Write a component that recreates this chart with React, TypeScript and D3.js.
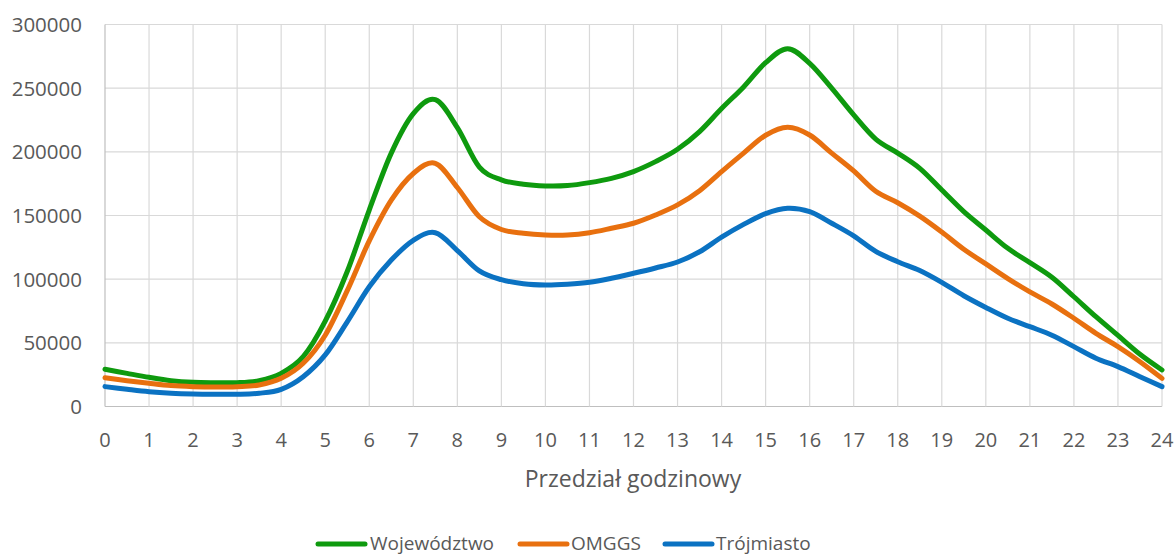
import React from "react";
import * as d3 from "d3";

const hours: number[] = Array.from({ length: 49 }, (_, i) => i / 2);
const xTicks: number[] = d3.range(0, 25);
const yTicks: number[] = [0, 50000, 100000, 150000, 200000, 250000, 300000];

const wojewodztwo: number[] = [
  29200, 26000, 22900, 20300, 19000, 18700, 18700, 20300, 26000, 39100,
  67000, 106000, 154300, 199000, 230000, 241000, 219000, 188000, 178000, 174500,
  173200, 173500, 175800, 179200, 184500, 192300, 202000, 215900, 234000, 251000,
  270000, 281000, 269500, 250000, 229000, 210000, 199000, 187000, 170000, 153000,
  138600, 124200, 113000, 101500, 86200, 70500, 55800, 41000, 28700,
];
const omggs: number[] = [
  22600, 20300, 18200, 16400, 15600, 15300, 15600, 16900, 22100, 33900,
  56000, 91000, 130000, 162000, 183000, 191000, 172000, 149000, 139000, 136000,
  134700, 134700, 136500, 140000, 143900, 150400, 158300, 169500, 184500, 199000,
  213000, 219300, 213200, 199000, 185000, 169000, 160000, 149500, 137000, 123500,
  112000, 100500, 90000, 80500, 69300, 57500, 47000, 35200, 22100,
];
const trojmiasto: number[] = [
  15600, 13500, 11600, 10400, 9800, 9600, 9600, 10400, 13500, 23400,
  40500, 66500, 94000, 115000, 130500, 136500, 122500, 106500, 99600, 96400,
  95400, 96000, 97500, 100700, 104600, 108800, 113500, 121500, 133000, 143000,
  151500, 155700, 153000, 143900, 134000, 121800, 113700, 106800, 97500, 87000,
  77800, 69300, 62700, 56000, 47000, 37900, 31300, 23400, 15600,
];

const seriesNames = ["Województwo", "OMGGS", "Trójmiasto"];
const seriesColors = ["#0e9a0e", "#e8700f", "#0b72c2"];
const seriesData = [wojewodztwo, omggs, trojmiasto];
const xTitle = "Przedział godzinowy";

const W = 1176;
const H = 556;
const left = 105;
const right = 1162;
const top = 24.5;
const bottom = 406.5;
const font = "'Open Sans', sans-serif";
const textColor = "#595959";

export default function App() {
  const x = d3.scaleLinear().domain([0, 24]).range([left, right]);
  const y = d3.scaleLinear().domain([0, 300000]).range([bottom, top]);
  const line = d3
    .line<number>()
    .x((_, i) => x(hours[i]))
    .y((d) => y(d))
    .curve(d3.curveCardinal.tension(0));

  const legendItems = [
    { lx: 318, tx: 370 },
    { lx: 520, tx: 571 },
    { lx: 665, tx: 716 },
  ];
  const legendY = 544;

  return (
    <div style={{ position: "fixed", left: 0, top: 0 }}>
      <svg width={W} height={H} style={{ display: "block", background: "#fff" }}>
        {yTicks.map((t) => (
          <line key={"gy" + t} x1={left} x2={right} y1={y(t)} y2={y(t)}
            stroke={t === 0 ? "#bfbfbf" : "#d9d9d9"} strokeWidth={1.2} />
        ))}
        {xTicks.map((t) => (
          <line key={"gx" + t} x1={x(t)} x2={x(t)} y1={top} y2={bottom}
            stroke={t === 0 ? "#bfbfbf" : "#d9d9d9"} strokeWidth={1.2} />
        ))}
        {yTicks.map((t) => (
          <text key={"ly" + t} x={82} y={y(t)} dy="0.36em" textAnchor="end"
            fontFamily={font} fontSize={20.5} fill={textColor}>
            {t}
          </text>
        ))}
        {xTicks.map((t) => (
          <text key={"lx" + t} x={x(t)} y={447} textAnchor="middle"
            fontFamily={font} fontSize={20} fill={textColor}>
            {t}
          </text>
        ))}
        <text x={633} y={487} textAnchor="middle"
          fontFamily={font} fontSize={23} fill={textColor}>
          {xTitle}
        </text>
        {seriesData.map((s, i) => (
          <path key={"s" + i} d={line(s) || ""} fill="none" stroke={seriesColors[i]}
            strokeWidth={5} strokeLinejoin="round" strokeLinecap="round" />
        ))}
        {seriesNames.map((n, i) => (
          <g key={"lg" + i}>
            <line x1={legendItems[i].lx} x2={legendItems[i].lx + 47} y1={legendY} y2={legendY}
              stroke={seriesColors[i]} strokeWidth={5} strokeLinecap="round" />
            <text x={legendItems[i].tx} y={legendY} dy="0.34em" fontFamily={font}
              fontSize={19} fill={textColor}>
              {n}
            </text>
          </g>
        ))}
      </svg>
    </div>
  );
}
